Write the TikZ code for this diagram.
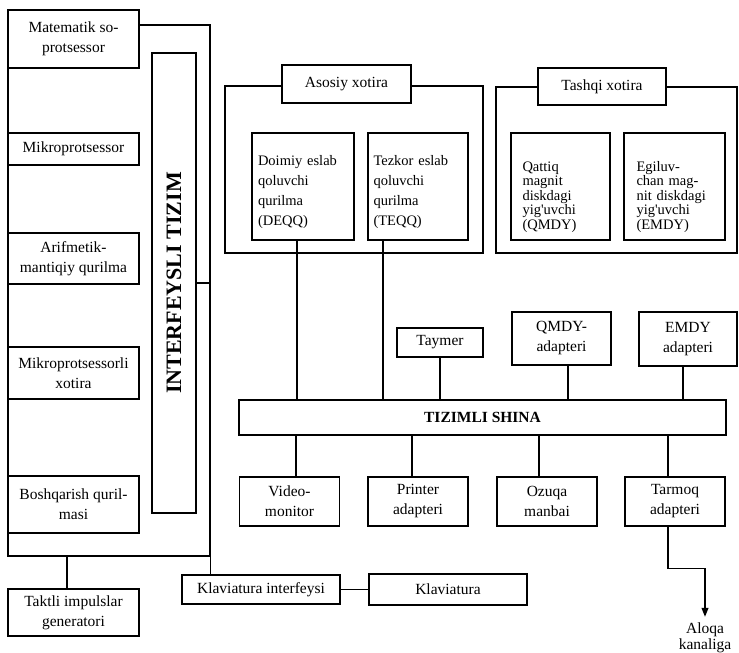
\documentclass[tikz,border=0pt]{standalone}
\usepackage{fontspec}
\setmainfont{Liberation Serif}[Ligatures=TeXOff]
\usetikzlibrary{positioning}
\usetikzlibrary{arrows.meta}

\begin{document}
\begin{tikzpicture}[x=1pt, y=-1pt,
    box/.style={draw, line width=1.1pt, fill=white, align=center, inner sep=2pt,
        font=\fontsize{15.5}{20}\selectfont},
    membox/.style={draw, line width=1.1pt, fill=white, align=left, inner xsep=0pt,
        minimum height=107, text height=10pt, font=\fontsize{14.5}{20}\selectfont},
    frame/.style={draw, line width=1.1pt},
    wire/.style={line width=1.1pt}]
    \useasboundingbox (0,0) rectangle (739,653);

    % Processor frame
    \node[frame, minimum width=202, minimum height=531] (cpu) at (109,290.5) {};
    \foreach \name/\y/\h/\txt in {matem/39/58/{Matematik so-\\protsessor},
        mikro/149/32/Mikroprotsessor, alu/258.5/51/{Arifmetik-\\mantiqiy qurilma},
        mxotira/373/52/{Mikroprotsessorli\\xotira}, boshq/504.5/57/{Boshqarish quril-\\masi}} {
        \node[box, minimum width=131, minimum height=\h] (\name) at (73.5,\y) {\txt};
    }
    \node[box, line width=2pt, minimum width=44, minimum height=460] (interf) at (174,283)
        {\rotatebox{90}{\fontsize{22}{22}\selectfont\bfseries INTERFEYSLI TIZIM}};
    \draw[wire] (interf.east) -- (interf.east -| cpu.east);

    % Clock and keyboard
    \node[box, minimum width=131, minimum height=47] (taktli) at (73.5,612.5) {Taktli impulslar\\generatori};
    \draw[wire] ([xshift=-6.5]taktli.north) -- ([xshift=-6.5]taktli.north |- cpu.south);
    \node[box, minimum width=158, minimum height=29] (kint) at (261,589.5) {Klaviatura interfeysi};
    \node[box, minimum width=158, minimum height=31] (klav) at (448,589.5) {Klaviatura};
    \draw[wire] (cpu.south east) -- (cpu.south east |- kint.north);
    \draw[wire] (kint.east) -- (klav.west);

    % Main memory
    \node[frame, minimum width=258, minimum height=167] (asosiy) at (354,169.5) {};
    \node[box, minimum width=129, minimum height=38] (asosiyname) at (346.5,84) {Asosiy xotira};
    \node[membox, minimum width=102, text width=90pt, text depth=53pt] (deqq) at (303,186.5)
        {\makebox[90pt][s]{Doimiy eslab}\\qoluvchi\\qurilma\\(DEQQ)};
    \node[membox, minimum width=100, text width=89pt, text depth=53pt] (teqq) at (418,186.5)
        {\makebox[89pt][s]{Tezkor eslab}\\qoluvchi\\qurilma\\(TEQQ)};

    % External memory
    \node[frame, minimum width=241, minimum height=166] (tashqi) at (616.5,170) {};
    \node[box, minimum width=128, minimum height=37] (tashqiname) at (602,86.5) {Tashqi xotira};
    \node[membox, minimum width=99, text width=76pt, text depth=41pt,
        font=\fontsize{14.5}{14.5}\selectfont] (qmdy) at (560.5,186.5)
        {Qattiq\\magnit\\diskdagi\\yig'uvchi\\(QMDY)};
    \node[membox, minimum width=101, text width=76pt, text depth=41pt,
        font=\fontsize{14.5}{14.5}\selectfont] (emdy) at (674.5,186.5)
        {Egiluv-\\\makebox[76pt][s]{chan mag-}\\nit diskdagi\\yig'uvchi\\(EMDY)};

    % System bus
    \node[box, line width=2pt, minimum width=487, minimum height=35,
        font=\fontsize{15.5}{20}\selectfont\bfseries] (shina) at (482.5,417.5) {TIZIMLI SHINA};
    \draw[wire] ([xshift=-6]deqq.south) -- ([xshift=-6]deqq.south |- shina.north);
    \draw[wire] ([xshift=15.5]teqq.south west) -- ([xshift=15.5]teqq.south west |- shina.north);

    % Devices above the bus
    \node[box, minimum width=86, minimum height=29] (taymer) at (440,342.5) {Taymer};
    \node[box, minimum width=99, minimum height=53] (qadapt) at (561.5,338.5) {QMDY-\\adapteri};
    \node[box, minimum width=98, minimum height=54] (eadapt) at (688,339) {EMDY\\adapteri};
    \draw[wire] (taymer.south) -- (taymer.south |- shina.north);
    \draw[wire] ([xshift=6.5]qadapt.south) -- ([xshift=6.5]qadapt.south |- shina.north);
    \draw[wire] ([xshift=-5]eadapt.south) -- ([xshift=-5]eadapt.south |- shina.north);

    % Devices below the bus
    \foreach \name/\x/\dx/\txt in {video/289.5/6.5/{Video-\\monitor}, printer/418/-6/{Printer\\adapteri},
        ozuqa/547/-8/{Ozuqa\\manbai}, tarmoq/675/-7/{Tarmoq\\adapteri}} {
        \node[box, minimum width=100, minimum height=49] (\name) at (\x,501.5) {\txt};
        \draw[wire] ([xshift=\dx]\name.north) -- ([xshift=\dx]\name.north |- shina.south);
    }

    % Network output
    \node[align=center, inner xsep=1pt, inner ysep=6pt, font=\fontsize{15.5}{16}\selectfont] (aloqa) at (705,638) {Aloqa\\kanaliga};
    \draw[wire, -{Triangle[length=9pt, width=7pt]}] ([xshift=-7]tarmoq.south) -- ++(0,42) -| (aloqa.north);
\end{tikzpicture}
\end{document}
